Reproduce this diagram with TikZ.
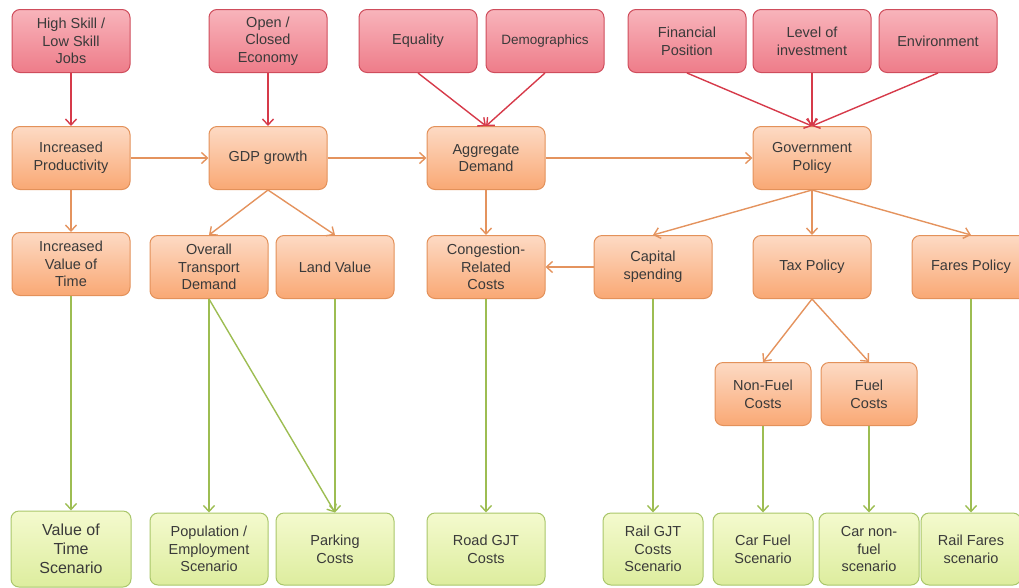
\documentclass[tikz,border=0pt]{standalone}
\usepackage{fontspec}
\setmainfont{Liberation Sans}
\usetikzlibrary{arrows.meta}
\definecolor{txt}{HTML}{3A3A3A}
\definecolor{redline}{HTML}{CF4D5C}
\definecolor{redtop}{HTML}{F8B4BB}
\definecolor{redbot}{HTML}{EE7C89}
\definecolor{orline}{HTML}{E3915A}
\definecolor{ortop}{HTML}{FDDAC4}
\definecolor{orbot}{HTML}{F9A874}
\definecolor{grline}{HTML}{A9C66A}
\definecolor{grtop}{HTML}{F4FACE}
\definecolor{grbot}{HTML}{DDED9E}
\definecolor{redarrow}{HTML}{D63A4A}
\definecolor{orarrow}{HTML}{E4935E}
\definecolor{grarrow}{HTML}{9DBD52}
\tikzset{
  box/.style={rectangle, rounded corners=8pt, align=center, inner sep=2pt, text=txt,
    font=\fontsize{14.5}{17.7}\selectfont, line width=1pt, minimum height=63pt},
  redbox/.style={box, draw=redline, top color=redtop, bottom color=redbot, minimum width=118pt},
  orbox/.style={box, draw=orline, top color=ortop, bottom color=orbot, minimum width=118pt},
  orsmall/.style={orbox, minimum width=96pt},
  grbox/.style={box, draw=grline, top color=grtop, bottom color=grbot, minimum width=118pt, minimum height=72pt},
  grsmall/.style={grbox, minimum width=100pt},
  conn/.style={line width=1.4pt, -{Straight Barb[length=6pt,width=11pt]}},
  redc/.style={conn, draw=redarrow},
  orc/.style={conn, draw=orarrow},
  grc/.style={conn, draw=grarrow}
}
\begin{document}
\begin{tikzpicture}[x=1pt,y=-1pt]
\useasboundingbox (0,0) rectangle (1019,587);
\clip (0,0) rectangle (1019,587);
% top row
\node[redbox] (hs) at (71,41) {High Skill /\\Low Skill\\Jobs};
\node[redbox] (oc) at (268,41) {Open /\\Closed\\Economy};
\node[redbox] (eq) at (418,41) {Equality};
\node[redbox, font=\fontsize{13.5}{16}\selectfont] (dem) at (545,41) {Demographics};
\node[redbox] (fin) at (687,41) {Financial\\Position};
\node[redbox] (lev) at (812,41) {Level of\\investment};
\node[redbox] (env) at (938,41) {Environment};
% second row
\node[orbox] (ip) at (71,158) {Increased\\Productivity};
\node[orbox] (gdp) at (268,158) {GDP growth};
\node[orbox] (agg) at (486,158) {Aggregate\\Demand};
\node[orbox] (gov) at (812,158) {Government\\Policy};
% third row
\node[orbox] (ivt) at (71,264) {Increased\\Value of\\Time};
\node[orbox] (otd) at (209,267) {Overall\\Transport\\Demand};
\node[orbox] (land) at (335,267) {Land Value};
\node[orbox] (cong) at (486,267) {Congestion-\\Related\\Costs};
\node[orbox] (cap) at (653,267) {Capital\\spending};
\node[orbox] (tax) at (812,267) {Tax Policy};
\node[orbox] (fares) at (971,267) {Fares Policy};
% fourth row
\node[orsmall] (nf) at (763,394) {Non-Fuel\\Costs};
\node[orsmall] (fc) at (869,394) {Fuel\\Costs};
% bottom row
\node[grbox, minimum width=120pt, minimum height=76pt, font=\fontsize{16}{19}\selectfont] (vot) at (71,549) {Value of\\Time\\Scenario};
\node[grbox] (pop) at (209,549) {Population /\\Employment\\Scenario};
\node[grbox] (park) at (335,549) {Parking\\Costs};
\node[grbox] (road) at (486,549) {Road GJT\\Costs};
\node[grsmall] (rail) at (653,549) {Rail GJT\\Costs\\Scenario};
\node[grsmall] (carf) at (763,549) {Car Fuel\\Scenario};
\node[grsmall] (carnf) at (869,549) {Car non-\\fuel\\scenario};
\node[grsmall] (railf) at (971,549) {Rail Fares\\scenario};
% red connectors
\draw[redc] (hs.south) -- (ip.north);
\draw[redc] (oc.south) -- (gdp.north);
\draw[redc] (eq.south) -- (agg.north);
\draw[redc] (dem.south) -- (agg.north);
\draw[redc] (fin.south) -- (gov.north);
\draw[redc] (lev.south) -- (gov.north);
\draw[redc] (env.south) -- (gov.north);
% orange connectors
\draw[orc] (ip.east) -- (gdp.west);
\draw[orc] (gdp.east) -- (agg.west);
\draw[orc] (agg.east) -- (gov.west);
\draw[orc] (ip.south) -- (ivt.north);
\draw[orc] (gdp.south) -- (otd.north);
\draw[orc] (gdp.south) -- (land.north);
\draw[orc] (agg.south) -- (cong.north);
\draw[orc] (gov.south) -- (cap.north);
\draw[orc] (gov.south) -- (tax.north);
\draw[orc] (gov.south) -- (fares.north);
\draw[orc] (cap.west) -- (cong.east);
\draw[orc] (tax.south) -- (nf.north);
\draw[orc] (tax.south) -- (fc.north);
% green connectors
\draw[grc] (ivt.south) -- (vot.north);
\draw[grc] (otd.south) -- (pop.north);
\draw[grc] (otd.south) -- (park.north);
\draw[grc] (land.south) -- (park.north);
\draw[grc] (cong.south) -- (road.north);
\draw[grc] (cap.south) -- (rail.north);
\draw[grc] (nf.south) -- (carf.north);
\draw[grc] (fc.south) -- (carnf.north);
\draw[grc] (fares.south) -- (railf.north);
\end{tikzpicture}
\end{document}
